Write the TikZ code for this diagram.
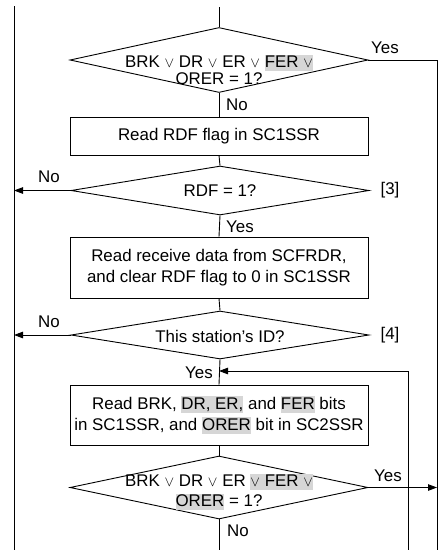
\documentclass[tikz,border=0pt]{standalone}
\usepackage{fontspec}
\setmainfont{Liberation Sans}
\usetikzlibrary{shapes.geometric,arrows.meta}
\definecolor{hlgray}{HTML}{D6D6D6}
% grey highlight behind register bit names
\newcommand{\hlbit}[1]{{\setlength{\fboxsep}{0pt}\colorbox{hlgray}{\rule[-0.2em]{0pt}{0.97em}#1}}}
% small logical-or sign
\newcommand{\orsym}{{\fontsize{13.5}{13.5}\selectfont$\vee$}}
\begin{document}
\begin{tikzpicture}[x=1pt,y=-1pt,
  every node/.style={font=\fontsize{16.9}{21}\selectfont},
  line/.style={line width=0.9pt,draw=black},
  arr/.style={line, -{Triangle[length=9pt,width=6.5pt]}},
  dia/.style={line, diamond, inner sep=0pt, minimum width=298pt, minimum height=#1},
  procbox/.style={line, rectangle, inner sep=0pt, minimum width=298pt, minimum height=#1, align=center},
  lbl/.style={inner sep=0pt}]
\useasboundingbox (0,0) rectangle (442,550);

% rails
\coordinate (lt) at (14,6);
\coordinate (lb) at (14,550);
\coordinate (rb) at (437,550);
\coordinate (ib) at (408,550);
\coordinate (top) at (219,7);
\coordinate (bot) at (219,550);
\coordinate (join) at (219,371);

% decisions and process steps
\node[dia=65pt] (d1) at (219,60) {};
\node[lbl, align=center] at (219,70) {BRK \orsym{} DR \orsym{} ER \orsym{} \hlbit{FER \orsym{}}\\[-4pt]ORER = 1?};
\node[procbox=38pt] (b1) at (219,136) {Read RDF flag in SC1SSR};
\node[dia=49pt] (d2) at (220,190.5) {};
\node[lbl] at (220,191) {RDF = 1?};
\node[procbox=61pt] (b2) at (219,267.5) {Read receive data from SCFRDR,\\and clear RDF flag to 0 in SC1SSR};
\node[dia=48pt] (d3) at (220,335) {};
\node[lbl] at (220,336) {This station’s ID?};
\node[procbox=60pt] (b3) at (219,415) {Read BRK, \hlbit{DR, ER,} and \hlbit{FER} bits\\in SC1SSR, and \hlbit{ORER} bit in SC2SSR};
\node[dia=63pt] (d4) at (219,487.5) {};
\node[lbl, align=center] at (219,492) {BRK \orsym{} DR \orsym{} ER \hlbit{\orsym{} FER \orsym{}}\\[-1pt]\hlbit{ORER} = 1?};

% connectors
\draw[line] (lt) -- (lb);
\draw[line] (top) -- (d1.north);
\draw[line] (d1.east) -| (rb);
\draw[line] (d1.south) -- (b1.north);
\draw[line] (b1.south) -- (d2.north);
\draw[arr] (d2.west) -- (d2.west -| lt);
\draw[line] (d2.south) -- (b2.north);
\draw[line] (b2.south) -- (d3.north);
\draw[arr] (d3.west) -- (d3.west -| lt);
\draw[line] (d3.south) -- (b3.north);
\draw[arr] (ib) |- (join);
\draw[line] (b3.south) -- (d4.north);
\draw[arr] (d4.east) -- (d4.east -| rb);
\draw[line] (d4.south) -- (bot);

% branch labels
\node[lbl] at (385,48) {Yes};
\node[lbl, anchor=west] at (226,105) {No};
\node[lbl] at (49,177) {No};
\node[lbl] at (390,190) {[3]};
\node[lbl, anchor=west] at (226,227) {Yes};
\node[lbl] at (49,322) {No};
\node[lbl] at (390,335) {[4]};
\node[lbl, anchor=east] at (213,373) {Yes};
\node[lbl] at (388,476) {Yes};
\node[lbl, anchor=west] at (227,531) {No};
\end{tikzpicture}
\end{document}
